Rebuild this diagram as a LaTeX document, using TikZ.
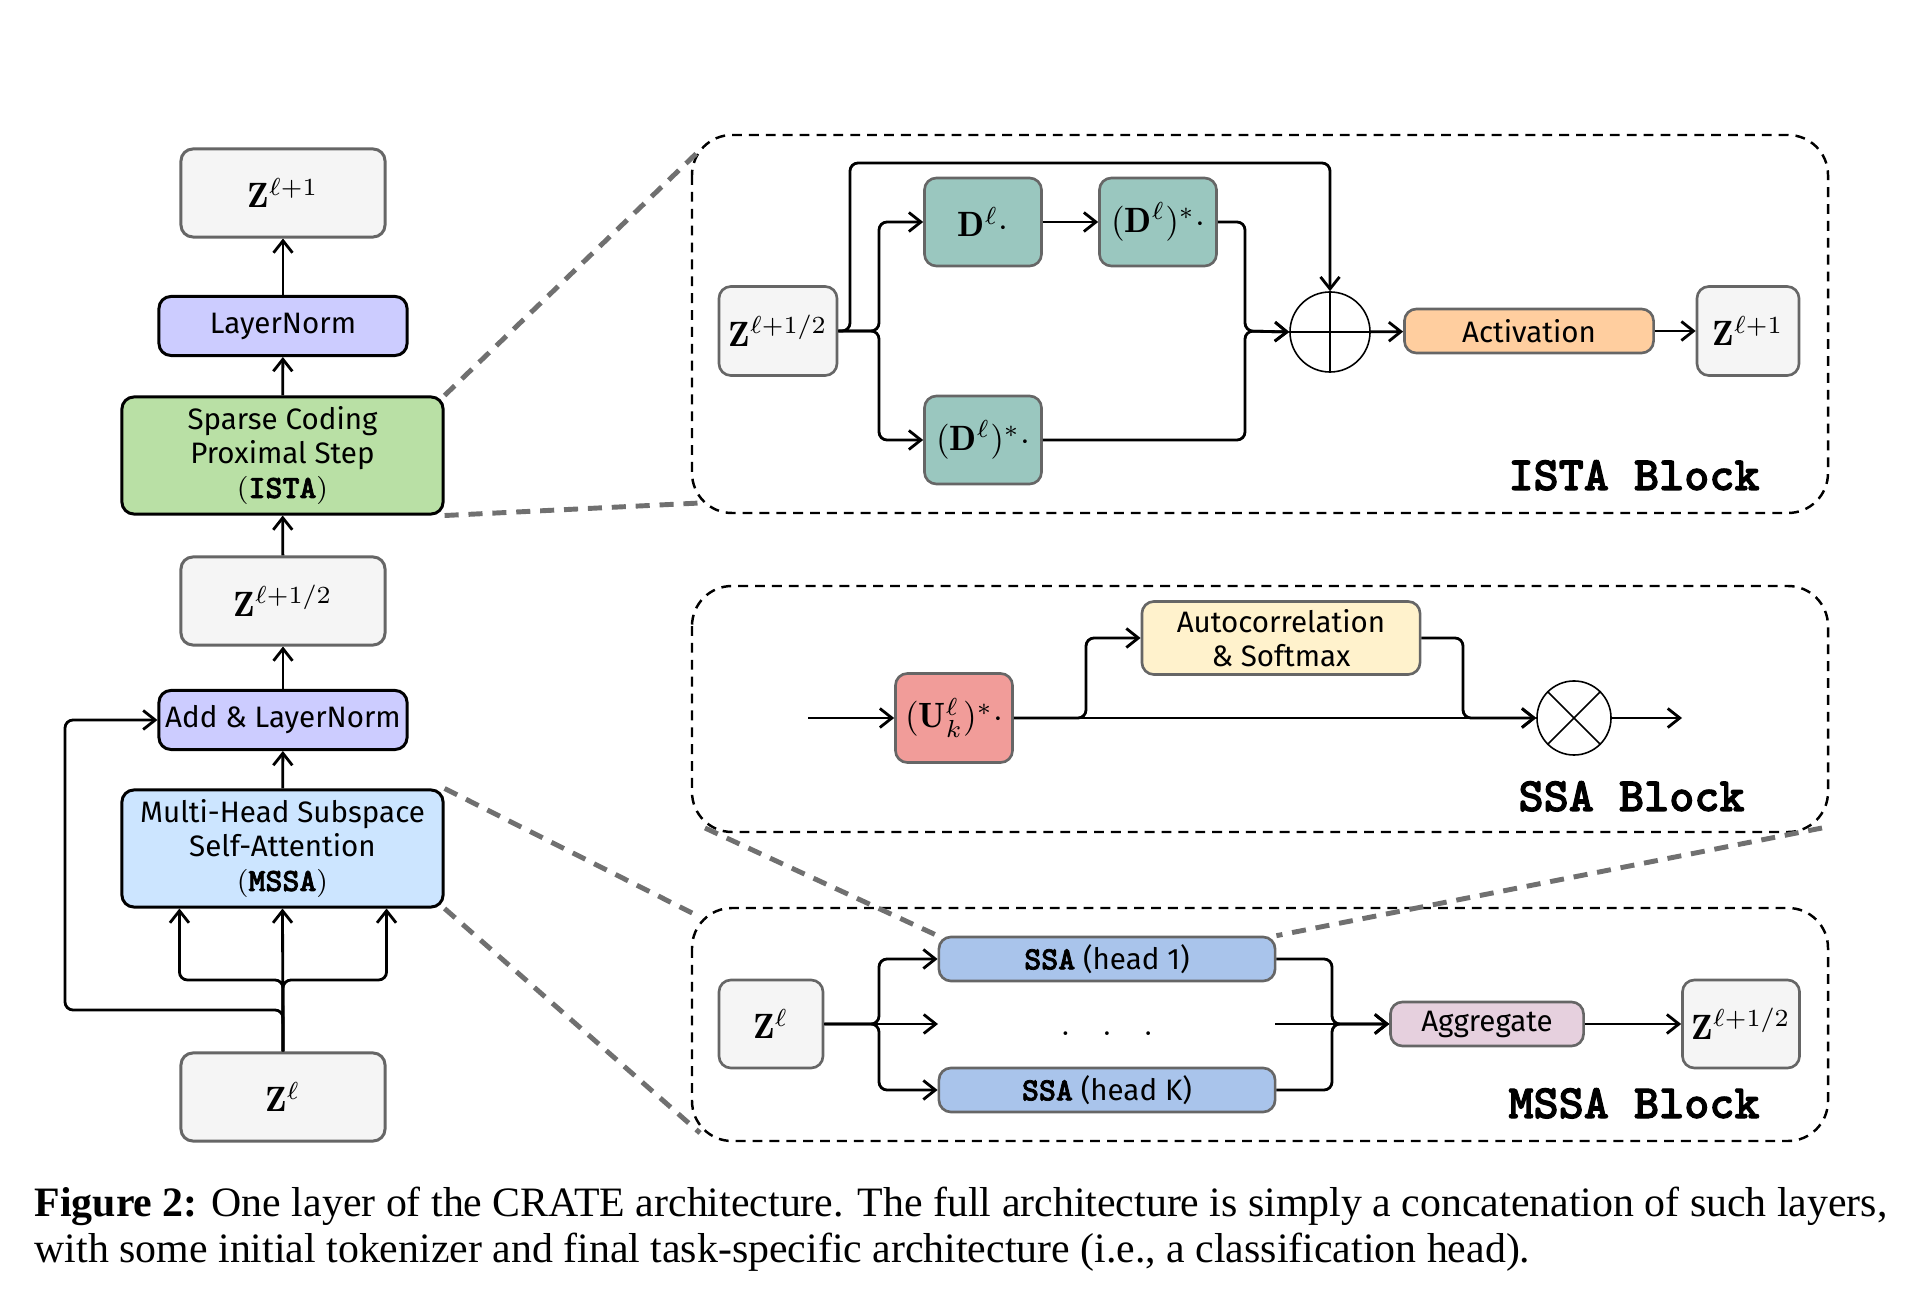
\documentclass[tikz,border=0pt]{standalone}
\usepackage{amsmath,amssymb}
\usepackage{fontspec}
\setsansfont{Fira Sans}
\newfontfamily\capfont{Liberation Serif}
\newfontfamily\codefont{lmmonolt10-bold.otf}[FakeBold=2.2]
\usepackage{xcolor}
\usepackage{tikz}
\usetikzlibrary{arrows.meta,backgrounds}
\definecolor{zfill}{HTML}{F5F5F5}
\definecolor{zdraw}{HTML}{666666}
\definecolor{normfill}{HTML}{CCCCFF}
\definecolor{istafill}{HTML}{B9E0A5}
\definecolor{mssafill}{HTML}{CCE5FF}
\definecolor{dictfill}{HTML}{9AC7BF}
\definecolor{actfill}{HTML}{FFCE9F}
\definecolor{softfill}{HTML}{FFF2CC}
\definecolor{projfill}{HTML}{F19C99}
\definecolor{headfill}{HTML}{A9C4EB}
\definecolor{aggfill}{HTML}{E6D0DE}
\definecolor{zoomgray}{HTML}{707070}
\newcommand{\code}[1]{{\codefont\fontsize{9.2}{9.8}\selectfont #1}}
\newcommand{\boxfont}{\fontsize{8.4}{9.8}\selectfont\sffamily}
\newcommand{\blockfont}{\fontsize{13.6}{15}\selectfont\codefont}

\begin{document}
\begin{tikzpicture}[x=0.01cm,y=-0.01cm,
    plainbox/.style={rectangle,rounded corners=1.2mm,line width=0.85pt,inner sep=0pt,align=center,font=\boxfont},
    zbox/.style={plainbox,draw=zdraw,fill=zfill,font=\fontsize{10}{12}\selectfont},
    normbox/.style={plainbox,draw=black,fill=normfill,minimum width=2.48cm,minimum height=0.59cm},
    bigbox/.style={plainbox,draw=black,minimum width=3.21cm,minimum height=1.17cm},
    opbox/.style={plainbox,draw=zdraw,line width=0.75pt,font=\fontsize{10}{12}\selectfont},
    thinbox/.style={plainbox,draw=zdraw,line width=0.75pt,minimum height=0.44cm},
    circ/.style={circle,draw,line width=0.45pt,inner sep=0pt},
    arr/.style={line width=0.8pt,-{Straight Barb[length=1.2mm,width=1.9mm]},rounded corners=0.8mm},
    region/.style={line width=0.7pt,dash pattern=on 2.8pt off 2pt,rounded corners=4mm},
    zoomline/.style={draw=zoomgray,line width=1.4pt,dash pattern=on 4pt off 2.8pt}]
    \useasboundingbox (0,0) rectangle (1912,1292);
    % left column
    \node[zbox,minimum width=2.04cm,minimum height=0.88cm] (1) at (283,193) {$\mathbf{Z}^{\ell+1}$};
    \node[normbox] (2) at (283,326) {LayerNorm};
    \node[bigbox,fill=istafill] (3) at (282.5,455.5) {Sparse Coding\\Proximal Step\\$($\code{ISTA}$)$};
    \node[zbox,minimum width=2.04cm,minimum height=0.88cm] (4) at (283,601) {$\mathbf{Z}^{\ell+1/2}$};
    \node[normbox] (5) at (283,720) {Add \& LayerNorm};
    \node[bigbox,fill=mssafill] (6) at (282.5,848.5) {Multi-Head Subspace\\Self-Attention\\$($\code{MSSA}$)$};
    \node[zbox,minimum width=2.04cm,minimum height=0.88cm] (7) at (283,1097) {$\mathbf{Z}^{\ell}$};
    \draw[arr] (4) -- (3);
    \draw[arr] (3) -- (2);
    \draw[arr] (2) -- (1);
    \draw[arr] (6) -- (5);
    \draw[arr] (5) -- (4);
    \draw[arr] (7.north) -- (6.south);
    \draw[arr] (7.north) -- (283,980) -| (7.north west |- 6.south);
    \draw[arr] (7.north) -- (283,980) -| (7.north east |- 6.south);
    \draw[arr] (7.north) -- (283,1010) -| (65,720) -- (5.west);

    % ISTA block
    \node[zbox,minimum width=1.18cm,minimum height=0.89cm,line width=0.75pt] (8) at (778,331) {$\mathbf{Z}^{\ell+1/2}$};
    \node[opbox,fill=dictfill,minimum width=1.17cm,minimum height=0.88cm] (9) at (983,222) {$\mathbf{D}^{\ell}\cdot$};
    \node[opbox,fill=dictfill,minimum width=1.17cm,minimum height=0.88cm] (10) at (1158,222) {$(\mathbf{D}^{\ell})^{*}\cdot$};
    \node[opbox,fill=dictfill,minimum width=1.17cm,minimum height=0.88cm] (11) at (983,440) {$(\mathbf{D}^{\ell})^{*}\cdot$};
    \node[circ,minimum size=0.8cm] (12) at (1330,332) {};
    \draw[line width=0.45pt] (12.north) -- (12.south) (12.west) -- (12.east);
    \node[thinbox,fill=actfill,minimum width=2.49cm] (13) at (1529,331) {Activation};
    \node[zbox,minimum width=1.02cm,minimum height=0.89cm,line width=0.75pt] (14) at (1748,331) {$\mathbf{Z}^{\ell+1}$};
    \node[anchor=base east,font=\blockfont] (15) at (1772,490) {ISTA Block};
    \draw[arr] (8.east) -- (879,331) |- (9.west);
    \draw[arr] (8.east) -- (879,331) |- (11.west);
    \draw[arr] (8.east) -| (850,163) -| (12.north);
    \draw[arr] (9) -- (10);
    \draw[arr] (10.east) -| (1245,331) -- (12.west);
    \draw[arr] (11.east) -| (1245,331) -- (12.west);
    \draw[arr] (12) -- (13);
    \draw[arr] (13) -- (14);

    % SSA block
    \node[opbox,fill=projfill,minimum width=1.17cm,minimum height=0.89cm] (16) at (954,718) {$(\mathbf{U}_{k}^{\ell})^{*}\cdot$};
    \node[thinbox,fill=softfill,minimum width=2.78cm,minimum height=0.73cm] (17) at (1281,638) {Autocorrelation\\\& Softmax};
    \node[circ,minimum size=0.74cm] (18) at (1574,718) {};
    \draw[line width=0.45pt] (18.north west) -- (18.south east) (18.north east) -- (18.south west);
    \node[anchor=base east,font=\blockfont] (19) at (1757,811) {SSA Block};
    \coordinate (b1) at (808,718);
    \coordinate (b2) at (1682,718);
    \draw[arr] (b1) -- (16.west);
    \draw[arr] (16.east) -- (1086,718) |- (17.west);
    \draw[arr] (16.east) -- (18.west);
    \draw[arr] (17.east) -| (1463,718) -- (18.west);
    \draw[arr] (18.east) -- (b2);

    % MSSA block
    \node[zbox,minimum width=1.04cm,minimum height=0.88cm,line width=0.75pt] (20) at (771,1024) {$\mathbf{Z}^{\ell}$};
    \node[thinbox,fill=headfill,minimum width=3.36cm] (21) at (1107,959) {\code{SSA} (head 1)};
    \node[thinbox,fill=headfill,minimum width=3.36cm] (22) at (1107,1090) {\code{SSA} (head K)};
    \node[anchor=base,inner sep=0pt] (23) at (1107,1036) {$.\hspace{9pt}.\hspace{9pt}.$};
    \node[thinbox,fill=aggfill,minimum width=1.93cm] (24) at (1487,1024) {Aggregate};
    \node[zbox,minimum width=1.17cm,minimum height=0.88cm,line width=0.75pt] (25) at (1741,1024) {$\mathbf{Z}^{\ell+1/2}$};
    \node[anchor=base east,font=\blockfont] (26) at (1772,1118) {MSSA Block};
    \coordinate (c1) at (938,1024);
    \coordinate (c2) at (1275,1024);
    \draw[arr] (20.east) -- (879,1024) |- (21.west);
    \draw[arr] (20.east) -- (879,1024) |- (22.west);
    \draw[arr] (20.east) -- (c1);
    \draw[arr] (21.east) -| (1332,1024) -- (24.west);
    \draw[arr] (22.east) -| (1332,1024) -- (24.west);
    \draw[arr] (c2) -- (24.west);
    \draw[arr] (24) -- (25);

    % dashed frames and zoom lines
    \begin{scope}[on background layer]
        \draw[region] (692,135) rectangle (1828,513);
        \draw[region] (692,586) rectangle (1828,832);
        \draw[region] (692,908) rectangle (1828,1141);
        \coordinate (a1) at (700,150);
        \coordinate (a2) at (700,503);
        \coordinate (a3) at (700,917);
        \coordinate (a4) at (700,1133);
        \coordinate (a5) at (705,828);
        \coordinate (a6) at (1822,828);
        \draw[zoomline] (3.north east) -- (a1);
        \draw[zoomline] (3.south east) -- (a2);
        \draw[zoomline] (6.north east) -- (a3);
        \draw[zoomline] (6.south east) -- (a4);
        \draw[zoomline] (a5) -- (21.north west);
        \draw[zoomline] (a6) -- (21.north east);
    \end{scope}

    % caption
    \node[anchor=north west,inner sep=0pt,align=left,font=\capfont\fontsize{11.9}{13.2}\selectfont] (27) at (34,1186) {\textbf{Figure 2:} One layer of the CRATE architecture. The full architecture is simply a concatenation of such layers,\\with some initial tokenizer and final task-specific architecture (i.e., a classification head).};
\end{tikzpicture}
\end{document}
